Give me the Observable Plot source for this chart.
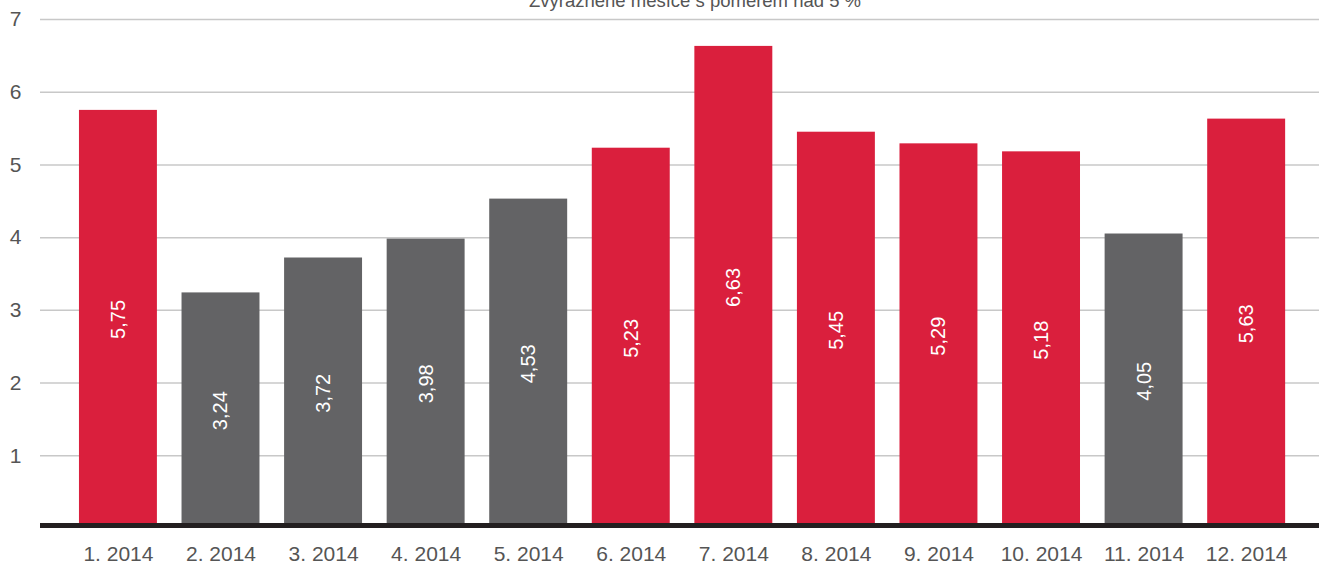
<!DOCTYPE html>
<html>
<head>
<meta charset="utf-8">
<script src="https://cdn.jsdelivr.net/npm/d3@7"></script>
<script src="https://cdn.jsdelivr.net/npm/@observablehq/plot@0.6"></script>
<style>
  html, body { margin: 0; padding: 0; background: #fff; overflow: hidden; }
  #chart svg { display: block; }
</style>
</head>
<body>
<div id="chart"></div>
<script>
const months = ["1. 2014","2. 2014","3. 2014","4. 2014","5. 2014","6. 2014","7. 2014","8. 2014","9. 2014","10. 2014","11. 2014","12. 2014"];
const values = [5.75, 3.24, 3.72, 3.98, 4.53, 5.23, 6.63, 5.45, 5.29, 5.18, 4.05, 5.63];
const yTicks = [1, 2, 3, 4, 5, 6, 7];
const title = "Zvýrazněné měsíce s poměrem nad 5 %";
const threshold = 5;

const data = months.map((m, i) => ({month: m, value: values[i], high: values[i] > threshold}));
const fmt = v => v.toFixed(2).replace(".", ",");

const chart = Plot.plot({
  width: 1319,
  height: 564,
  marginTop: 19,
  marginBottom: 36,
  marginLeft: 40,
  marginRight: 0,
  style: {fontFamily: "'Liberation Sans', Arial, sans-serif", fontSize: "19px", color: "#555", background: "#fff"},
  x: {domain: months, paddingInner: 0.24, paddingOuter: 0.355, align: 0.535, round: false, label: null},
  y: {domain: [0, 7], label: null},
  marks: [
    Plot.gridY(yTicks, {stroke: "#c8c8c8", strokeOpacity: 1, strokeWidth: 1.5}),
    Plot.axisY(yTicks, {tickSize: 0, tickPadding: 19, fontSize: 21, fill: "#555", label: null, tickFormat: d => String(d)}),
    Plot.axisX({tickSize: 0, tickPadding: 18, fontSize: 21, fill: "#555", label: null}),
    Plot.barY(data, {x: "month", y: "value", fill: d => d.high ? "#da1f3d" : "#636365"}),
    Plot.ruleY([0], {stroke: "#231f20", strokeWidth: 5, dy: -3}),
    Plot.text(data, {x: "month", y: d => d.value / 2, text: d => fmt(d.value), rotate: -90, fill: "white", fontSize: 20}),
    Plot.text([title], {frameAnchor: "top", lineAnchor: "bottom", dy: -13, dx: 15, fontSize: 18.5, fill: "#555"})
  ]
});
document.getElementById("chart").appendChild(chart);
</script>
</body>
</html>
